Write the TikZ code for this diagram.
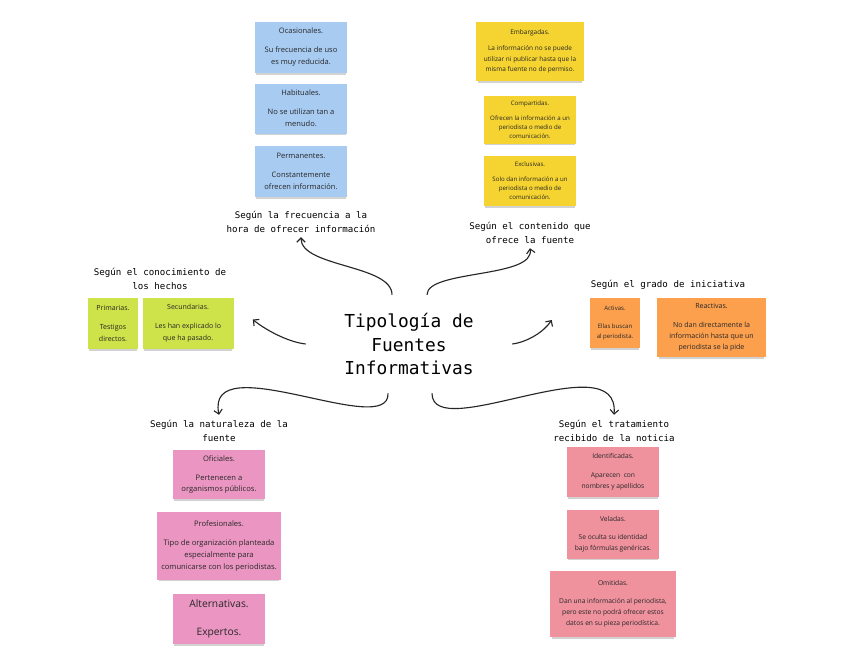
\documentclass[tikz,border=0pt]{standalone}
\usepackage{fontspec}
\setmainfont{Open Sans}
\newfontfamily\monofont{DejaVu Sans Mono}
\usetikzlibrary{positioning}
\usetikzlibrary{calc}
\usetikzlibrary{arrows.meta}
\usetikzlibrary{shadows}
\definecolor{noteblue}{HTML}{A8CBF2}
\definecolor{noteyellow}{HTML}{F5D330}
\definecolor{notegreen}{HTML}{CDE349}
\definecolor{noteorange}{HTML}{FCA04E}
\definecolor{notepink}{HTML}{EB96C2}
\definecolor{notered}{HTML}{F0929E}
\tikzset{
    note/.style={
        rectangle,
        inner sep=1pt,
        text=black!85,
        align=center,
        font=\fontsize{5}{8.5}\selectfont,
        drop shadow={shadow xshift=0pt, shadow yshift=-1.8pt, shadow scale=0.97, opacity=0.35}
    },
    heading/.style={
        align=center,
        font=\monofont\fontsize{6.5}{10}\selectfont
    },
    arrow/.style={
        -{Straight Barb[length=3pt,width=6pt]},
        line width=0.8pt,
        draw=black!85
    }
}

\begin{document}
\begin{tikzpicture}[x=0.025cm, y=-0.025cm]
        \fill[white] (0,0) rectangle (848,667);
        \useasboundingbox (0,0) rectangle (848,667);

        % Frecuencia
        \node (ocasional) [note, fill=noteblue, font=\fontsize{5.35}{8.5}\selectfont, minimum width=2.3cm, minimum height=1.275cm] at (301,47.5) {Ocasionales.\\[5pt]Su frecuencia de uso\\es muy reducida.};
        \node (habitual) [note, fill=noteblue, font=\fontsize{5.35}{8.5}\selectfont, minimum width=2.3cm, minimum height=1.25cm, below=0.25cm of ocasional] {Habituales.\\[5pt]No se utilizan tan a\\menudo.};
        \node (permanente) [note, fill=noteblue, font=\fontsize{5.35}{8.5}\selectfont, minimum width=2.3cm, minimum height=1.275cm, below=0.3cm of habitual] {Permanentes.\\[5pt]Constantemente\\ofrecen información.};
        \node (frecuencia) [heading] at (301,221.5) {Según la frecuencia a la\\hora de ofrecer información};

        % Contenido
        \node (embargada) [note, fill=noteyellow, font=\fontsize{4.6}{7.3}\selectfont, minimum width=2.7cm, minimum height=1.475cm] at (530,51.5) {Embargadas.\\[4pt]La información no se puede\\utilizar ni publicar hasta que la\\misma fuente no de permiso.};
        \node (compartida) [note, fill=noteyellow, font=\fontsize{4.35}{6.5}\selectfont, minimum width=2.3cm, minimum height=1.2cm, below=0.35cm of embargada] {Compartidas.\\[4pt]Ofrecen la información a un\\periodista o medio de\\comunicación.};
        \node (exclusiva) [note, fill=noteyellow, font=\fontsize{4.35}{6.5}\selectfont, minimum width=2.3cm, minimum height=1.25cm, below=0.3cm of compartida] {Exclusivas.\\[4pt]Solo dan información a un\\periodista o medio de\\comunicación.};
        \node (contenido) [heading] at (530,232.5) {Según el contenido que\\ofrece la fuente};

        % Conocimiento
        \node (conocimiento) [heading] at (160,278.5) {Según el conocimiento de\\los hechos};
        \node (primaria) [note, fill=notegreen, minimum width=1.25cm, minimum height=1.275cm] at (113,323.5) {Primarias.\\[5pt]Testigos\\directos.};
        \node (secundaria) [note, fill=notegreen, minimum width=2.275cm, minimum height=1.275cm, right=0.1cm of primaria] {Secundarias.\\[5pt]Les han explicado lo\\que ha pasado.};

        % Iniciativa
        \node (iniciativa) [heading] at (668,285) {Según el grado de iniciativa};
        \node (activa) [note, fill=noteorange, font=\fontsize{4.3}{7.5}\selectfont, minimum width=1.25cm, minimum height=1.25cm] at (615,323) {Activas.\\[5pt]Ellas buscan\\al periodista.};
        \node (reactiva) [note, fill=noteorange, font=\fontsize{5}{7.8}\selectfont, minimum width=2.725cm, minimum height=1.475cm] at (711.5,327.5) {Reactivas.\\[6pt]No dan directamente la\\información hasta que un\\periodista se la pide};

        % Naturaleza
        \node (naturaleza) [heading] at (219,430.5) {Según la naturaleza de la\\fuente};
        \node (oficial) [note, fill=notepink, font=\fontsize{5.4}{8.5}\selectfont, minimum width=2.3cm, minimum height=1.225cm] at (219,474.5) {Oficiales.\\[5pt]Pertenecen a\\organismos públicos.};
        \node (profesional) [note, fill=notepink, font=\fontsize{5.4}{8.5}\selectfont, minimum width=3.1cm, minimum height=1.7cm, below=0.3cm of oficial] {Profesionales.\\[5pt]Tipo de organización planteada\\especialmente para\\comunicarse con los periodistas.};
        \node (alternativa) [note, fill=notepink, font=\fontsize{7.3}{20}\selectfont, minimum width=2.3cm, minimum height=1.25cm, below=0.35cm of profesional] {Alternativas.\\Expertos.};

        % Tratamiento
        \node (tratamiento) [heading] at (614,430.5) {Según el tratamiento\\recibido de la noticia};
        \node (identificada) [note, fill=notered, font=\fontsize{4.75}{8}\selectfont, minimum width=2.3cm, minimum height=1.25cm] at (613,472) {Identificadas.\\[5pt]Aparecen\ \ con\\nombres y apellidos};
        \node (velada) [note, fill=notered, font=\fontsize{4.75}{8}\selectfont, minimum width=2.3cm, minimum height=1.225cm, below=0.3cm of identificada] {Veladas.\\[5pt]Se oculta su identidad\\bajo fórmulas genéricas.};
        \node (omitida) [note, fill=notered, font=\fontsize{4.75}{7.8}\selectfont, minimum width=3.125cm, minimum height=1.65cm, below=0.3cm of velada] {Omitidas.\\[5pt]Dan una información al periodista,\\pero este no podrá ofrecer estos\\datos en su pieza periodística.};

        % Centre
        \node (tipologia) [font=\monofont\fontsize{12.7}{16.7}\selectfont, align=center, minimum width=5.15cm, minimum height=2.45cm] at (409,344) {Tipología de\\Fuentes\\Informativas};

        \coordinate (leftend) at ($(secundaria.east)+(19,-4)$);
        \coordinate (rightend) at ($(activa.west)+(-38,-3)$);

        % Arrows
        \draw [arrow] ($(tipologia.north)+(-17,0)$) .. controls +(0,-30) and +(0,30) .. (frecuencia.south);
        \draw [arrow] ($(tipologia.north)+(18,0)$) .. controls +(0,-25) and +(5,30) .. (contenido.south);
        \draw [arrow] (tipologia.west) .. controls +(-18,-2) and +(12,10) .. (leftend);
        \draw [arrow] (tipologia.east) .. controls +(15,-2) and +(-8,12) .. (rightend);
        \draw [arrow] ($(tipologia.south)+(-21,0)$) .. controls +(2,47) and +(-14,-70) .. (naturaleza.north);
        \draw [arrow] ($(tipologia.south)+(23,0)$) .. controls +(0,52) and +(6,-73) .. (tratamiento.north);

    \end{tikzpicture}
\end{document}
